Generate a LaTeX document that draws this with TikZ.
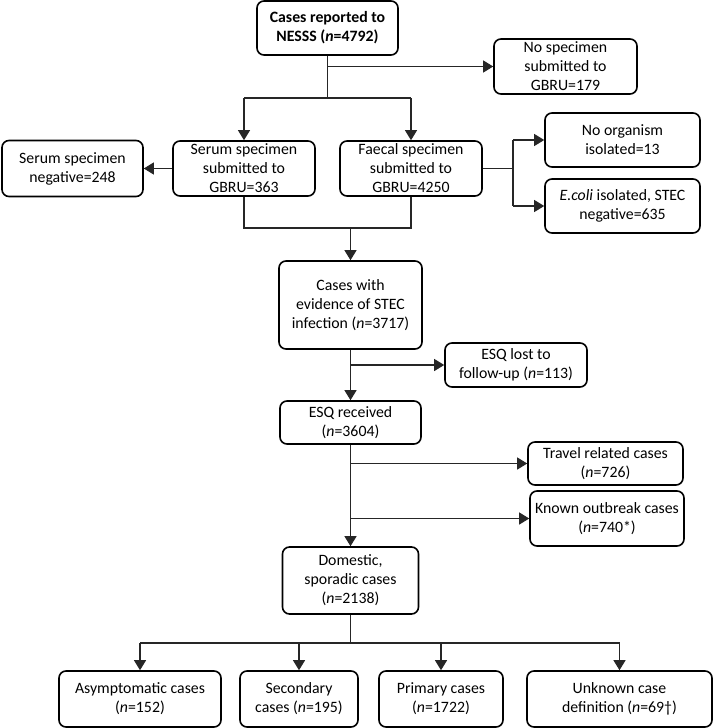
\documentclass[tikz,border=0pt]{standalone}
\usepackage{fontspec}
\setmainfont{Carlito}
\usetikzlibrary{arrows.meta}
\begin{document}
\begin{tikzpicture}[x=1pt,y=-1pt,
  bx/.style={draw, rounded corners=7pt, line width=1.6pt, align=center, inner sep=0pt, font=\fontsize{15.8}{19}\selectfont},
  ln/.style={line width=1.1pt, draw=black!85},
  conn/.style={line width=1.1pt, draw=black!85, -{Triangle[length=10pt,width=12pt]}}]
\useasboundingbox (0,0) rectangle (713,728);
% nodes
\node[bx, minimum width=141pt, minimum height=54pt] (top) at (327.5,28) {\textbf{Cases reported to}\\\textbf{NESSS (\textit{n}=4792)}};
\node[bx, minimum width=143pt, minimum height=55pt] (nospec) at (565.5,66.5) {No specimen\\submitted to\\GBRU=179};
\node[bx, minimum width=142pt, minimum height=55pt] (serum) at (244,168.5) {Serum specimen\\submitted to\\GBRU=363};
\node[bx, minimum width=142pt, minimum height=55pt] (faecal) at (411,168.5) {Faecal specimen\\submitted to\\GBRU=4250};
\node[bx, minimum width=141pt, minimum height=56pt] (serneg) at (72.5,168.5) {Serum specimen\\negative=248};
\node[bx, minimum width=155pt, minimum height=54pt] (noorg) at (622.5,140) {No organism\\isolated=13};
\node[bx, minimum width=155pt, minimum height=54pt] (ecoli) at (622.5,206) {\textit{E.coli} isolated, STEC\\negative=635};
\node[bx, minimum width=143pt, minimum height=88pt] (evid) at (350.5,305) {Cases with\\evidence of STEC\\infection (\textit{n}=3717)};
\node[bx, minimum width=142pt, minimum height=44pt] (lost) at (516,365) {ESQ lost to\\follow-up (\textit{n}=113)};
\node[bx, minimum width=141pt, minimum height=43pt] (recv) at (350.5,422.5) {ESQ received\\(\textit{n}=3604)};
\node[bx, minimum width=155pt, minimum height=43pt] (travel) at (605.5,463.5) {Travel related cases\\(\textit{n}=726)};
\node[bx, minimum width=154pt, minimum height=55pt] (known) at (607,518.5) {Known outbreak cases\\(\textit{n}=740*)};
\node[bx, minimum width=136pt, minimum height=67pt] (dom) at (350.5,580.5) {Domestic,\\sporadic cases\\(\textit{n}=2138)};
\node[bx, minimum width=162pt, minimum height=56pt] (asym) at (140,699) {Asymptomatic cases\\(\textit{n}=152)};
\node[bx, minimum width=118pt, minimum height=56pt] (sec) at (299,699) {Secondary\\cases (\textit{n}=195)};
\node[bx, minimum width=124pt, minimum height=56pt] (prim) at (441,699) {Primary cases\\(\textit{n}=1722)};
\node[bx, minimum width=185pt, minimum height=56pt] (unk) at (619.5,699) {Unknown case\\definition (\textit{n}=69†)};
% connectors
\coordinate (s1) at (327.5,98);
\draw[ln] (top.south) -- (s1);
\draw[conn] (top.south |- nospec.west) -- (nospec.west);
\draw[ln] (serum.north |- s1) -- (faecal.north |- s1);
\draw[conn] (serum.north |- s1) -- (serum.north);
\draw[conn] (faecal.north |- s1) -- (faecal.north);
\draw[conn] (serum.west) -- (serneg.east);
\coordinate (f1) at (513,168.5);
\draw[ln] (faecal.east) -- (f1);
\draw[ln] (f1 |- noorg.west) -- (f1 |- ecoli.west);
\draw[conn] (f1 |- noorg.west) -- (noorg.west);
\draw[conn] (f1 |- ecoli.west) -- (ecoli.west);
\coordinate (j) at (350.5,228);
\draw[ln] (serum.south) -- (serum.south |- j) -- (faecal.south |- j) -- (faecal.south);
\draw[conn] (j) -- (evid.north);
\draw[conn] (evid.south) -- (recv.north);
\draw[conn] (evid.south |- lost.west) -- (lost.west);
\draw[conn] (recv.south) -- (dom.north);
\draw[conn] (recv.south |- travel.west) -- (travel.west);
\draw[conn] (recv.south |- known.west) -- (known.west);
\coordinate (b) at (350.5,643);
\draw[ln] (dom.south) -- (b);
\draw[ln] (asym.north |- b) -- (unk.north |- b);
\draw[conn] (asym.north |- b) -- (asym.north);
\draw[conn] (sec.north |- b) -- (sec.north);
\draw[conn] (prim.north |- b) -- (prim.north);
\draw[conn] (unk.north |- b) -- (unk.north);
\end{tikzpicture}
\end{document}
